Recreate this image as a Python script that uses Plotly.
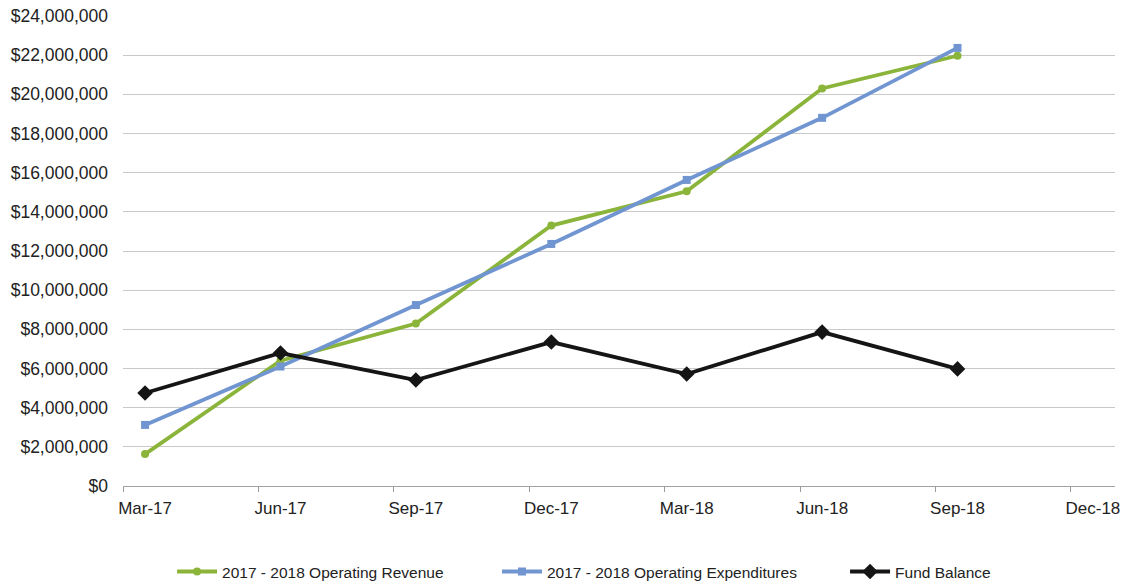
import plotly.graph_objects as go

quarters = ["Mar-17", "Jun-17", "Sep-17", "Dec-17", "Mar-18", "Jun-18", "Sep-18", "Dec-18"]
revenue = [1630000, 6400000, 8300000, 13300000, 15050000, 20300000, 21970000]
expenditures = [3120000, 6100000, 9240000, 12360000, 15630000, 18800000, 22370000]
fund_balance = [4750000, 6790000, 5410000, 7350000, 5720000, 7860000, 5980000]

xpos = list(range(len(quarters)))

fig = go.Figure()
fig.add_trace(go.Scatter(
    x=xpos[:len(revenue)], y=revenue, mode="lines+markers",
    name="2017 - 2018 Operating Revenue",
    line=dict(color="#8BB43A", width=3.8),
    marker=dict(symbol="circle", size=8, color="#8BB43A"),
    legend="legend",
))
fig.add_trace(go.Scatter(
    x=xpos[:len(expenditures)], y=expenditures, mode="lines+markers",
    name="2017 - 2018 Operating Expenditures",
    line=dict(color="#7095D0", width=3.8),
    marker=dict(symbol="square", size=8, color="#7095D0"),
    legend="legend2",
))
fig.add_trace(go.Scatter(
    x=xpos[:len(fund_balance)], y=fund_balance, mode="lines+markers",
    name="Fund Balance",
    line=dict(color="#151515", width=3.8),
    marker=dict(symbol="diamond", size=12, color="#151515"),
    legend="legend3",
))

def legend_at(xfrac):
    return dict(orientation="h", x=xfrac, xanchor="left", xref="container",
                yref="container", y=0.024, yanchor="middle",
                font=dict(size=15.5), itemwidth=40,
                bgcolor="rgba(0,0,0,0)")

fig.update_layout(
    width=1129, height=586,
    margin=dict(l=123, r=14, t=16, b=100, autoexpand=False),
    paper_bgcolor="white", plot_bgcolor="white",
    font=dict(family="Liberation Sans, Arial, sans-serif", size=16, color="#222222"),
    showlegend=True,
    legend=legend_at(0.1524),
    legend2=legend_at(0.4402),
    legend3=legend_at(0.7485),
    xaxis=dict(
        range=[-0.163, 7.163], tickvals=xpos, ticktext=quarters,
        showgrid=False, zeroline=False, ticks="",
        showline=False, ticklabelstandoff=10,
        minor=dict(tick0=-0.163, dtick=1, ticks="outside", ticklen=5, tickcolor="#9a9a9a", showgrid=False),
        tickfont=dict(size=17),
    ),
    yaxis=dict(
        range=[0, 24000000], dtick=2000000, tickprefix="$", tickformat=",d",
        showgrid=True, gridcolor="#c9c9c9", gridwidth=1,
        zeroline=True, zerolinecolor="#a0a0a0", zerolinewidth=1,
        showline=False, ticks="", ticklabelstandoff=14,
        tickfont=dict(size=17.5),
    ),
)

fig.write_html("out.html")
